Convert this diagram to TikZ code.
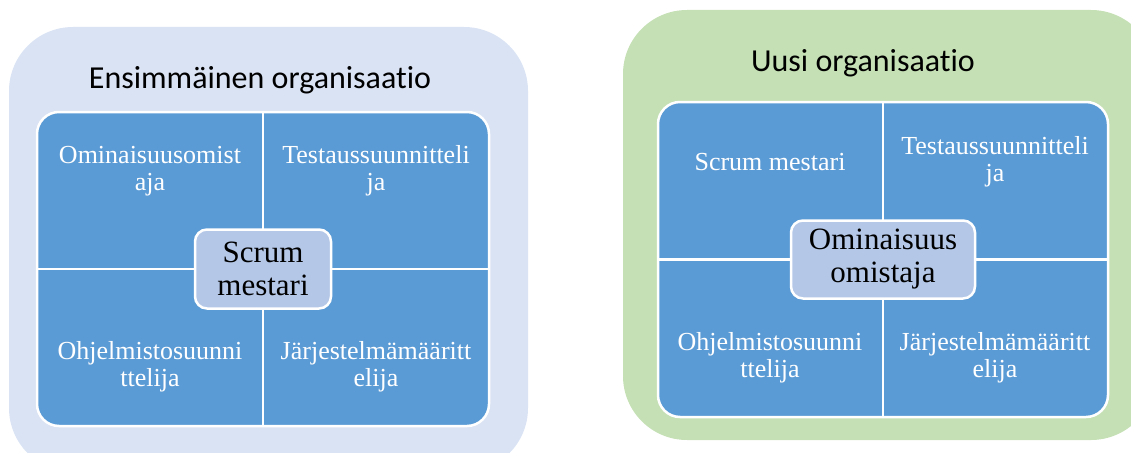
\documentclass[tikz,border=0pt]{standalone}
\usepackage{fontspec}
\setmainfont{Liberation Serif}
\newfontfamily\titlefont[Ligatures={NoCommon}]{Carlito}
\definecolor{leftbg}{HTML}{DAE3F3}
\definecolor{rightbg}{HTML}{C5E0B4}
\definecolor{cellblue}{HTML}{5B9BD5}
\definecolor{hubblue}{HTML}{B4C7E7}
\tikzset{
  panel/.style={rounded corners=64pt},
  gridbox/.style={draw=white, line width=2.5pt, fill=cellblue, rounded corners=22pt,
    inner sep=0pt},
  divider/.style={draw=white, line width=2.5pt},
  hub/.style={draw=white, line width=2.5pt, fill=hubblue, rounded corners=12pt,
    align=center, inner sep=0pt, font=\fontsize{31}{33}\selectfont},
  cell/.style={text=white, align=center, inner sep=0pt, font=\fontsize{26}{27}\selectfont},
  heading/.style={inner sep=0pt, font=\titlefont\fontsize{32}{36}\selectfont}
}
\begin{document}
\begin{tikzpicture}[x=1pt, y=-1pt]
\useasboundingbox (0,0) rectangle (1131,452);
\clip (0,0) rectangle (1131,452);
% background panels
\fill[leftbg, panel] (9,27) rectangle (528,472);
\fill[rightbg, panel] (623,10) rectangle (1155,440);

% first organisation
\node[heading] (t1) at (260,80) {Ensimmäinen organisaatio};
\node[gridbox, minimum width=452pt, minimum height=314pt] (g1) at (263,269) {};
\draw[divider] (g1.north) -- (g1.south);
\draw[divider] (g1.west) -- (g1.east);
\node[cell] (a1) at (150,171) {Ominaisuusomist\\aja};
\node[cell] (a2) at (376,171) {Testaussuunnitteli\\ja};
\node[cell] (a3) at (150,367) {Ohjelmistosuunni\\ttelija};
\node[cell] (a4) at (376,367) {Järjestelmämääritt\\elija};
\node[hub, minimum width=136pt, minimum height=79pt] (h1) at (g1.center) {Scrum\\mestari};

% new organisation
\node[heading] (t2) at (863,63) {Uusi organisaatio};
\node[gridbox, minimum width=450pt, minimum height=315pt] (g2) at (883,259.5) {};
\draw[divider] (g2.north) -- (g2.south);
\draw[divider] (g2.west) -- (g2.east);
\node[cell] (b1) at (770,162) {Scrum mestari};
\node[cell] (b2) at (995,162) {Testaussuunnitteli\\ja};
\node[cell] (b3) at (770,358) {Ohjelmistosuunni\\ttelija};
\node[cell] (b4) at (995,358) {Järjestelmämääritt\\elija};
\node[hub, minimum width=184pt, minimum height=78pt] (h2) at (g2.center) {Ominaisuus\\omistaja};
\end{tikzpicture}
\end{document}
